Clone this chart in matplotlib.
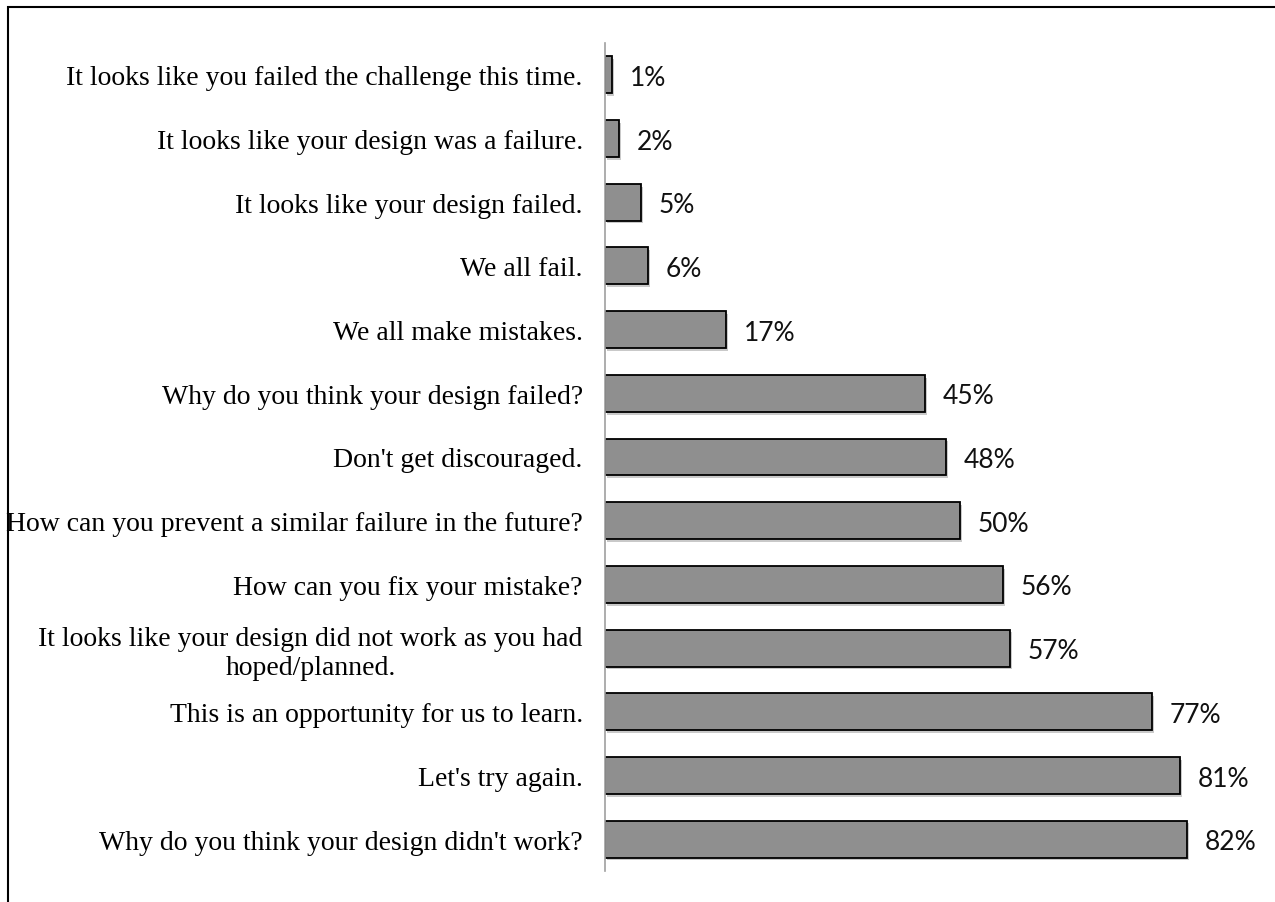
import matplotlib.pyplot as plt
import matplotlib.patheffects as pe
from matplotlib.patches import Rectangle

# statements, top to bottom
labels = [
    "It looks like you failed the challenge this time.",
    "It looks like your design was a failure.",
    "It looks like your design failed.",
    "We all fail.",
    "We all make mistakes.",
    "Why do you think your design failed?",
    "Don't get discouraged.",
    "How can you prevent a similar failure in the future?",
    "How can you fix your mistake?",
    "It looks like your design did not work as you had\nhoped/planned.",
    "This is an opportunity for us to learn.",
    "Let's try again.",
    "Why do you think your design didn't work?",
]
values = [1, 2, 5, 6, 17, 45, 48, 50, 56, 57, 77, 81, 82]

W, H = 1275, 903
fig = plt.figure(figsize=(W / 100, H / 100), dpi=100)

# outer frame (only top and left edges visible in the crop)
fig.patches.append(Rectangle((8 / W, -0.1), 1.2, 1 - 8 / H + 0.1,
                             transform=fig.transFigure, fill=False,
                             edgecolor="black", linewidth=1.5))

ax = fig.add_axes([605 / W, 1 - 872 / H, (W - 605) / W, 828 / H])

y = list(range(len(labels)))
bars = ax.barh(y, values, height=0.58, color="#8f8f8f", edgecolor="black",
               linewidth=1.3)
for b in bars:
    b.set_path_effects([pe.SimplePatchShadow(offset=(1.5, -2), alpha=0.25),
                        pe.Normal()])

ax.set_ylim(len(labels) - 0.5, -0.5)
ax.set_xlim(0, (W - 605) / 7.1)

ax.set_yticks(y)
ax.set_yticklabels(labels, fontsize=20, family="Liberation Serif",
                   multialignment="center")
ax.tick_params(axis="y", length=0, pad=16)
ax.set_xticks([])

for s in ["top", "right", "bottom"]:
    ax.spines[s].set_visible(False)
ax.spines["left"].set_color("#a0a0a0")
ax.spines["left"].set_linewidth(1.2)

for yi, v in zip(y, values):
    ax.text(v + 2.5, yi + 0.04, f"{v}%", va="center", ha="left", fontsize=19,
            family="Lato", color="#111111")

fig.savefig("out.png", dpi=100)
